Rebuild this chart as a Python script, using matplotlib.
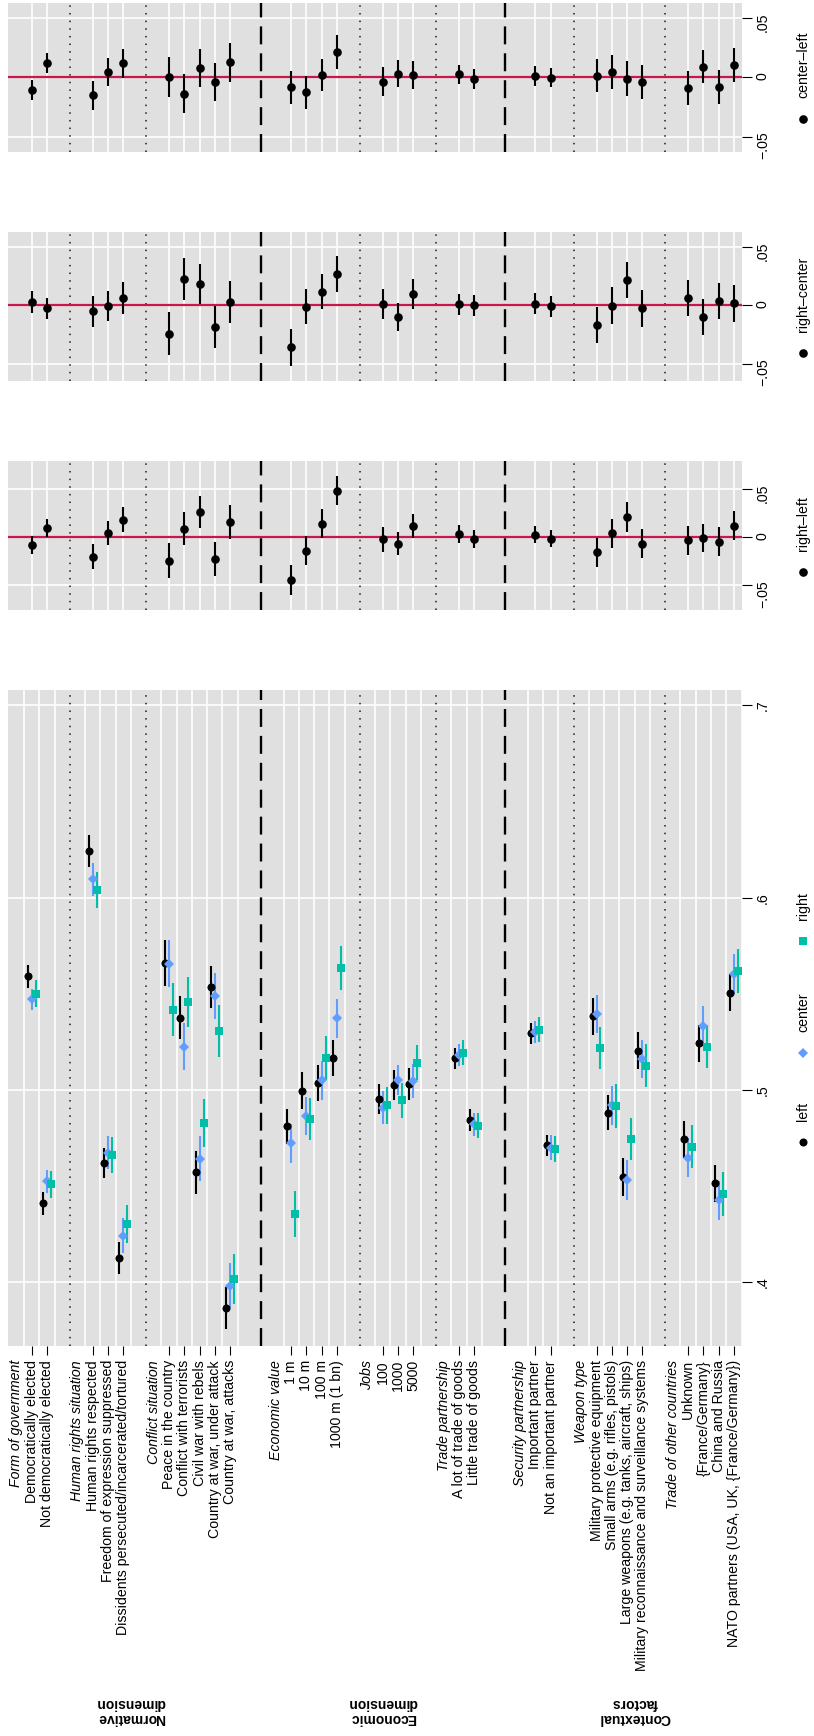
import matplotlib.pyplot as plt
from matplotlib.transforms import blended_transform_factory

plt.rcParams['font.family'] = ['Liberation Sans', 'DejaVu Sans']

# coefficient list: group headings, levels, dimension of each group
headers = ["Form of government", "Human rights situation", "Conflict situation",
           "Economic value", "Jobs", "Trade partnership",
           "Security partnership", "Weapon type", "Trade of other countries"]
items = [
    ["Democratically elected", "Not democratically elected"],
    ["Human rights respected", "Freedom of expression suppressed",
     "Dissidents persecuted/incarcerated/tortured"],
    ["Peace in the country", "Conflict with terrorists", "Civil war with rebels",
     "Country at war, under attack", "Country at war, attacks"],
    ["1 m", "10 m", "100 m", "1000 m (1 bn)"],
    ["100", "1000", "5000"],
    ["A lot of trade of goods", "Little trade of goods"],
    ["Important partner", "Not an important partner"],
    ["Military protective equipment", "Small arms (e.g. rifles, pistols)",
     "Large weapons (e.g. tanks, aircraft, ships)",
     "Military reconnaissance and surveillance systems"],
    ["Unknown", "{France/Germany}", "China and Russia",
     "NATO partners (USA, UK, {France/Germany})"],
]
group_dim = [0, 0, 0, 1, 1, 1, 2, 2, 2]
dim_labels = ["Normative\ndimension", "Economic\ndimension", "Contextual\nfactors"]

# marginal means (estimate, CI half width) by respondent group
left_est = [.559, .441, .624, .462, .4125, .566, .5376, .4571, .5536, .3864,
            .481, .4996, .5035, .5166, .4952, .5024, .5028, .5164, .4842,
            .5295, .4711, .5383, .4882, .4547, .5204, .4744, .5241, .4514, .5505]
left_ci = [.0060, .0059, .0083, .0079, .0084, .0119, .0113, .0112, .0109, .0109,
           .0091, .0096, .0093, .0095, .0077, .0077, .0083, .0055, .0057,
           .0055, .0055, .0096, .0093, .0098, .0098, .0096, .0096, .0096, .0095]
center_est = [.547, .4525, .6094, .4674, .4241, .5656, .5225, .4641, .5488, .3982,
              .4722, .4864, .505, .5372, .4908, .505, .5046, .5182, .482,
              .5302, .47, .5394, .4919, .453, .516, .4646, .533, .4425, .5604]
center_ci = [.0055, .0060, .0088, .0085, .0090, .0121, .0120, .0117, .0120, .0119,
             .0102, .0098, .0101, .0102, .0088, .0077, .0088, .0058, .0059,
             .0057, .0063, .0101, .0103, .0104, .0098, .0101, .0104, .0101, .0104]
right_est = [.550, .4508, .6039, .4661, .4302, .5416, .5457, .4827, .5306, .4018,
             .4354, .4847, .5166, .5635, .4919, .4945, .5142, .5193, .4814,
             .5313, .4694, .5219, .4915, .4744, .5125, .4705, .5225, .446, .5619]
right_ci = [.0069, .0068, .0096, .0093, .0098, .0138, .0128, .0126, .0133, .0130,
            .0118, .0109, .0113, .0115, .0095, .0090, .0090, .0066, .0066,
            .0066, .0068, .0109, .0115, .0109, .0112, .0114, .0112, .0115, .0113]

# differences between groups
rl_est = [-.0080, .0101, -.0201, .0045, .0184, -.0243, .0090, .0264, -.0226, .0160,
          -.0444, -.0139, .0139, .0486, -.0021, -.0069, .0122, .0035, -.0017,
          .0028, -.0014, -.0156, .0045, .0212, -.0066, -.0031, -.0007, -.0045, .0122]
rl_ci = [.0090, .0094, .0132, .0127, .0132, .0182, .0175, .0170, .0175, .0177,
         .0156, .0148, .0151, .0153, .0127, .0120, .0125, .0092, .0090,
         .0090, .0090, .0153, .0151, .0153, .0153, .0151, .0148, .0153, .0151]
rc_est = [.0031, -.0026, -.0049, -.0003, .0063, -.0243, .0226, .0186, -.0183, .0031,
          -.0360, -.0011, .0117, .0269, .0011, -.0100, .0100, .0009, .0000,
          .0014, -.0009, -.0171, -.0003, .0217, -.0026, .0060, -.0097, .0037, .0017]
rc_ci = [.0093, .0091, .0133, .0127, .0133, .0184, .0176, .0171, .0179, .0179,
         .0156, .0150, .0150, .0156, .0129, .0121, .0127, .0090, .0090,
         .0089, .0089, .0153, .0156, .0151, .0155, .0155, .0155, .0156, .0156]
cl_est = [-.0109, .0120, -.0151, .0047, .0117, .0003, -.0137, .0075, -.0039, .0126,
          -.0084, -.0126, .0020, .0212, -.0036, .0031, .0020, .0025, -.0017,
          .0011, -.0003, .0014, .0047, -.0011, -.0039, -.0089, .0089, -.0081, .0103]
cl_ci = [.0084, .0081, .0123, .0119, .0120, .0170, .0165, .0159, .0163, .0165,
         .0140, .0140, .0137, .0140, .0119, .0112, .0121, .0082, .0084,
         .0084, .0082, .0140, .0141, .0144, .0142, .0142, .0140, .0144, .0140]

main_ticks = [.4, .5, .6, .7]
main_ticklabels = ['.4', '.5', '.6', '.7']
diff_ticks = [-.05, 0, .05]
diff_ticklabels = ['\u2212.05', '0', '.05']

# ---- positions along the category axis ----
pos = 0
head_pos, item_pos, dotted, dashed, dim_span = [], [], [], [], {}
for g, its in enumerate(items):
    if g > 0:
        if group_dim[g] != group_dim[g - 1]:
            dashed.append(pos)
            pos += 1
        else:
            dotted.append(pos - 0.5)
    head_pos.append(pos)
    item_pos += [pos + 1 + j for j in range(len(its))]
    d = group_dim[g]
    lo, hi = dim_span.get(d, (pos, pos))
    dim_span[d] = (min(lo, pos), pos + len(its) + 1)
    pos += len(its) + 2
xlim = (-0.55, item_pos[-1] + 0.53)

W, H = 814, 1736
fig = plt.figure(figsize=(W / 100, H / 100), dpi=100)
BG = '#e0e0e0'


def rect(top, bottom):
    return [8 / W, 1 - bottom / H, 734 / W, (bottom - top) / H]


def style_axes(ax, ylim, ticks, labels):
    ax.set_facecolor(BG)
    for s in ax.spines.values():
        s.set_visible(False)
    ax.set_xlim(*xlim)
    ax.set_ylim(*ylim)
    ax.yaxis.tick_right()
    ax.set_yticks(ticks)
    ax.set_yticklabels(labels)
    ax.tick_params(axis='y', direction='out', length=7, width=0.8, pad=3,
                   labelrotation=90, labelsize=10.2)
    for t in ticks:
        ax.axhline(t, color='white', lw=1.2, zorder=0.5)
    for p in dotted:
        ax.axvline(p, color='#1a1a1a', lw=1.1, ls=(0, (1, 4)), zorder=1)
    for p in dashed:
        ax.axvline(p, color='black', lw=1.7, ls=(0, (7.6, 3.8)), zorder=1)


# ---- main panel ----
ax = fig.add_axes(rect(690, 1346))
style_axes(ax, (0.3668, 0.7079), main_ticks, main_ticklabels)
for h, its in zip(head_pos, items):
    for j in range(len(its) + 1):
        ax.axvline(h + 0.5 + j, color='white', lw=1.2, zorder=0.5)

series = [
    (left_est, left_ci, 'o', 'black', -0.26, 5.8),
    (center_est, center_ci, 'D', '#619cff', 0.0, 5.3),
    (right_est, right_ci, 's', '#00bfa8', 0.26, 6.2),
]
for est, ci, mk, col, off, ms in series:
    ax.errorbar([p + off for p in item_pos], est, yerr=ci, fmt=mk, color=col,
                ms=ms, mew=0, elinewidth=1.5, capsize=0, zorder=3)

tick_pos, tick_lab, is_head = [], [], []
k = 0
for g, its in enumerate(items):
    tick_pos.append(head_pos[g])
    tick_lab.append(headers[g])
    is_head.append(True)
    for name in its:
        tick_pos.append(item_pos[k])
        tick_lab.append(name)
        is_head.append(False)
        k += 1
ax.set_xticks(tick_pos)
ax.set_xticklabels(tick_lab)
ax.tick_params(axis='x', direction='out', length=6.5, width=0.8, pad=3.6,
               labelrotation=90, labelsize=10.2)
for t, hd in zip(ax.xaxis.get_major_ticks(), is_head):
    if hd:
        t.tick1line.set_visible(False)
        t.label1.set_fontstyle('italic')

trans = blended_transform_factory(ax.transData, fig.transFigure)
for d, lab in enumerate(dim_labels):
    lo, hi = dim_span[d]
    ax.text((lo + hi) / 2, 1 - 1710.5 / H, lab, transform=trans, rotation=180,
            ha='center', va='center', multialignment='center',
            fontsize=10, fontweight='bold', linespacing=1.05)

# ---- difference panels ----
diffs = [
    (cl_est, cl_ci, (2.7, 151.7), (-0.0625, 0.0627)),
    (rc_est, rc_ci, (232, 380.7), (-0.0644, 0.0627)),
    (rl_est, rl_ci, (461, 610), (-0.0757, 0.0795)),
]
for est, ci, (top, bot), ylim in diffs:
    dax = fig.add_axes(rect(top, bot))
    style_axes(dax, ylim, diff_ticks, diff_ticklabels)
    dax.set_xticks([])
    for p in item_pos:
        dax.axvline(p, color='white', lw=1.2, zorder=0.5)
    dax.axhline(0, color='#c8174b', lw=1.6, zorder=1.5)
    dax.errorbar(item_pos, est, yerr=ci, fmt='o', color='black', ms=6.2,
                 mew=0, elinewidth=1.5, capsize=0, zorder=3)

# ---- legends (drawn in pixel space, rotated like the rest) ----
lax = fig.add_axes([0, 0, 1, 1])
lax.set_xlim(0, W)
lax.set_ylim(H, 0)
lax.axis('off')
legend_rows = [
    ('o', 'black', 5.8, 'left', 1141.7),
    ('D', '#619cff', 5.3, 'center', 1052.5),
    ('s', '#00bfa8', 6.2, 'right', 941),
    ('o', 'black', 6.2, 'center\u2013left', 119.3),
    ('o', 'black', 6.2, 'right\u2013center', 353.3),
    ('o', 'black', 6.2, 'right\u2013left', 571.7),
]
for mk, col, ms, lab, y in legend_rows:
    lax.plot([803], [y], mk, color=col, ms=ms, mew=0)
    lax.text(803, y - 21, lab, rotation=90, ha='center', va='bottom',
             fontsize=10.2)

fig.savefig('out.png', dpi=100)
